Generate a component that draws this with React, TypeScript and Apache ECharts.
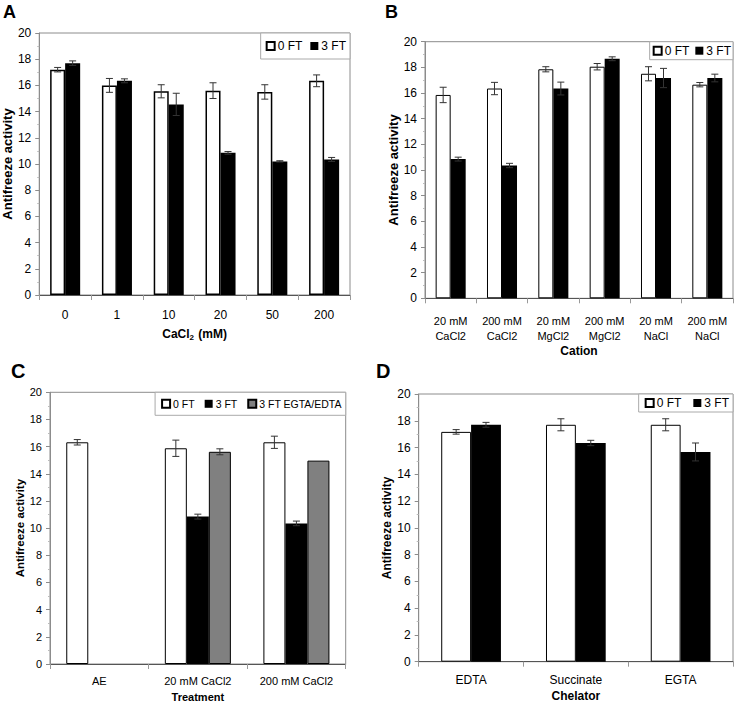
import React, { useEffect, useRef } from 'react';
import * as echarts from 'echarts';

// ---------- Data ----------
const catsA = ['0', '1', '10', '20', '50', '200'];
const a0FT = [17.2, 16.0, 15.55, 15.6, 15.5, 16.35];
const a0FTErr = [0.17, 0.53, 0.5, 0.6, 0.55, 0.45];
const a3FT = [17.7, 16.35, 14.55, 10.85, 10.2, 10.35];
const a3FTErr = [0.17, 0.15, 0.85, 0.1, 0.05, 0.15];

const catsB = ['20 mM\nCaCl2', '200 mM\nCaCl2', '20 mM\nMgCl2', '200 mM\nMgCl2', '20 mM\nNaCl', '200 mM\nNaCl'];
const b0FT = [15.85, 16.35, 17.85, 18.05, 17.5, 16.65];
const b0FTErr = [0.6, 0.48, 0.2, 0.25, 0.55, 0.17];
const b3FT = [10.85, 10.35, 16.35, 18.67, 17.17, 17.17];
const b3FTErr = [0.15, 0.17, 0.5, 0.15, 0.75, 0.3];

const catsC = ['AE', '20 mM CaCl2', '200 mM CaCl2'];
const c0FT = [16.32, 15.88, 16.32];
const c0FTErr = [0.2, 0.6, 0.45];
const c3FT = [null, 10.85, 10.35];
const c3FTErr = [null, 0.18, 0.17];
const c3FTChel = [null, 15.62, 14.97];
const c3FTChelErr = [null, 0.22, 0];

const catsD = ['EDTA', 'Succinate', 'EGTA'];
const d0FT = [17.17, 17.7, 17.7];
const d0FTErr = [0.17, 0.45, 0.45];
const d3FT = [17.7, 16.34, 15.67];
const d3FTErr = [0.18, 0.2, 0.67];

const yTicks = { min: 0, max: 20, interval: 2 };

const ARIAL = "'Liberation Sans', Arial, sans-serif";

type SeriesDef = { name: string; values: (number | null)[]; errs: (number | null)[]; color: string; border: string; borderWidth: number };
type Panel = {
  letter: string; letterX: number; letterY: number; letterSize: number;
  grid: { left: number; top: number; width: number; height: number };
  cats: string[]; gap: number; tickSize: number; catSize: number; catMargin: number; lineHeight?: number;
  yName: string; yNameSize: number; yNameGap: number;
  xName: string; xNameSize: number; xNameGap: number; xNameRich?: boolean;
  series: SeriesDef[];
  legend: { right: number; top: number; padding: number[]; itemGap: number; fontSize: number };
};

const panels: Panel[] = [
  {
    letter: 'A', letterX: 3, letterY: 3, letterSize: 18,
    grid: { left: 37.5, top: 33, width: 312.5, height: 262 },
    cats: catsA, gap: 0.42, tickSize: 12, catSize: 12, catMargin: 14,
    yName: 'Antifreeze activity', yNameSize: 13, yNameGap: 19,
    xName: 'CaCl{s|2} (mM)', xNameSize: 12, xNameGap: 32, xNameRich: true,
    series: [
      { name: '0 FT', values: a0FT, errs: a0FTErr, color: '#fff', border: '#000', borderWidth: 1.5 },
      { name: '3 FT', values: a3FT, errs: a3FTErr, color: '#000', border: '#000', borderWidth: 0 },
    ],
    legend: { right: 736 - 350, top: 33, padding: [7, 4, 7, 5], itemGap: 8, fontSize: 12 },
  },
  {
    letter: 'B', letterX: 385, letterY: 3, letterSize: 18,
    grid: { left: 425, top: 41.7, width: 308, height: 256.6 },
    cats: catsB, gap: 0.415, tickSize: 12, catSize: 11, catMargin: 15, lineHeight: 15,
    yName: 'Antifreeze activity', yNameSize: 13, yNameGap: 24,
    xName: 'Cation', xNameSize: 12, xNameGap: 47,
    series: [
      { name: '0 FT', values: b0FT, errs: b0FTErr, color: '#fff', border: '#000', borderWidth: 1 },
      { name: '3 FT', values: b3FT, errs: b3FTErr, color: '#000', border: '#000', borderWidth: 0 },
    ],
    legend: { right: 3, top: 41.7, padding: [3, 2, 3, 3], itemGap: 6, fontSize: 12 },
  },
  {
    letter: 'C', letterX: 11, letterY: 361, letterSize: 20,
    grid: { left: 50, top: 392.3, width: 295.7, height: 272 },
    cats: catsC, gap: 0.33, tickSize: 11, catSize: 11, catMargin: 11,
    yName: 'Antifreeze activity', yNameSize: 11.5, yNameGap: 23,
    xName: 'Treatment', xNameSize: 11, xNameGap: 27,
    series: [
      { name: '0 FT', values: c0FT, errs: c0FTErr, color: '#fff', border: '#000', borderWidth: 1 },
      { name: '3 FT', values: c3FT, errs: c3FTErr, color: '#000', border: '#000', borderWidth: 0 },
      { name: '3 FT EGTA/EDTA', values: c3FTChel, errs: c3FTChelErr, color: '#808080', border: '#000', borderWidth: 1 },
    ],
    legend: { right: 736 - 345.7, top: 392.3, padding: [6, 4, 6, 6], itemGap: 10, fontSize: 10.5 },
  },
  {
    letter: 'D', letterX: 376, letterY: 361, letterSize: 20,
    grid: { left: 418.7, top: 394, width: 314.3, height: 267.7 },
    cats: catsD, gap: 0.43, tickSize: 12, catSize: 12, catMargin: 12,
    yName: 'Antifreeze activity', yNameSize: 12, yNameGap: 25,
    xName: 'Chelator', xNameSize: 12, xNameGap: 28,
    series: [
      { name: '0 FT', values: d0FT, errs: d0FTErr, color: '#fff', border: '#000', borderWidth: 1 },
      { name: '3 FT', values: d3FT, errs: d3FTErr, color: '#000', border: '#000', borderWidth: 0 },
    ],
    legend: { right: 3, top: 394, padding: [3, 4, 3, 6], itemGap: 12, fontSize: 12 },
  },
];

function buildOption() {
  const grid: any[] = [];
  const xAxis: any[] = [];
  const yAxis: any[] = [];
  const series: any[] = [];
  const legend: any[] = [];
  const graphic: any[] = [];

  panels.forEach((p, pi) => {
    grid.push({ ...p.grid, show: true, borderColor: '#8c8c8c', borderWidth: 1, backgroundColor: '#fff', containLabel: false });
    xAxis.push({
      type: 'category', gridIndex: pi, data: p.cats,
      axisLine: { lineStyle: { color: '#555', width: 1 } },
      axisTick: { show: true, length: 5, lineStyle: { color: '#999' } },
      axisLabel: { fontFamily: ARIAL, fontSize: p.catSize, color: '#000', margin: p.catMargin, lineHeight: p.lineHeight, interval: 0 },
      name: p.xName, nameLocation: 'middle', nameGap: p.xNameGap,
      nameTextStyle: {
        fontFamily: ARIAL, fontSize: p.xNameSize, fontWeight: 'bold', color: '#000',
        rich: p.xNameRich ? { s: { fontFamily: ARIAL, fontSize: 8, fontWeight: 'bold', color: '#000', verticalAlign: 'bottom', padding: [6, 1, 0, 0] } } : undefined,
      },
    });
    yAxis.push({
      type: 'value', gridIndex: pi, ...yTicks,
      axisLine: { show: true, lineStyle: { color: '#8c8c8c' } },
      axisTick: { show: true, length: 4, lineStyle: { color: '#8c8c8c' } },
      minorTick: { show: true, splitNumber: 2, length: 2, lineStyle: { color: '#bbb' } },
      splitLine: { show: false },
      axisLabel: { fontFamily: ARIAL, fontSize: p.tickSize, color: '#000', margin: 8 },
      name: p.yName, nameLocation: 'middle', nameGap: p.yNameGap, nameRotate: 90,
      nameTextStyle: { fontFamily: ARIAL, fontSize: p.yNameSize, fontWeight: 'bold', color: '#000' },
    });
    const n = p.series.length;
    p.series.forEach((s, si) => {
      series.push({
        type: 'bar', name: s.name, xAxisIndex: pi, yAxisIndex: pi,
        data: s.values, barGap: '0%', barCategoryGap: Math.round(p.gap * 1000) / 10 + '%',
        itemStyle: { color: s.color, borderColor: s.border, borderWidth: s.borderWidth },
        z: 2,
      });
      const errData: any[] = [];
      s.values.forEach((v, i) => {
        const e = s.errs[i];
        if (v != null && e != null && e > 0) errData.push([i, v, e]);
      });
      const gap = p.gap;
      series.push({
        type: 'custom', name: 'err-' + p.letter + si, xAxisIndex: pi, yAxisIndex: pi,
        encode: { x: 0, y: 1 }, data: errData, z: 5, silent: true,
        renderItem: (params: any, api: any) => {
          const i = api.value(0), v = api.value(1), e = api.value(2);
          const band = api.size([1, 0])[0];
          const bw = (band * (1 - gap)) / n;
          const off = (si - (n - 1) / 2) * bw;
          const p1 = api.coord([i, v + e]);
          const p2 = api.coord([i, v - e]);
          const x = p1[0] + off;
          const cap = 3.5;
          const style = { stroke: '#333', lineWidth: 1, fill: 'none' };
          return {
            type: 'group',
            children: [
              { type: 'line', shape: { x1: x, y1: p1[1], x2: x, y2: p2[1] }, style },
              { type: 'line', shape: { x1: x - cap, y1: p1[1], x2: x + cap, y2: p1[1] }, style },
              { type: 'line', shape: { x1: x - cap, y1: p2[1], x2: x + cap, y2: p2[1] }, style },
            ],
          };
        },
      });
    });
    legend.push({
      data: p.series.map((s) => s.name),
      right: p.legend.right, top: p.legend.top,
      orient: 'horizontal', padding: p.legend.padding, itemGap: p.legend.itemGap,
      itemWidth: 8, itemHeight: 8, icon: 'rect',
      borderColor: '#aaa', borderWidth: 1, backgroundColor: '#fff',
      textStyle: { fontFamily: ARIAL, fontSize: p.legend.fontSize, color: '#000', padding: [0, 0, 0, -2] },
      selectedMode: false,
    });
    graphic.push({
      type: 'text', left: p.letterX, top: p.letterY,
      style: { text: p.letter, font: `bold ${p.letterSize}px 'Liberation Sans', Arial, sans-serif`, fill: '#000' },
    });
  });

  return { animation: false, backgroundColor: '#fff', grid, xAxis, yAxis, series, legend, graphic };
}

export default function App() {
  const ref = useRef<HTMLDivElement>(null);
  useEffect(() => {
    if (!ref.current) return;
    const chart = echarts.init(ref.current, undefined, { renderer: 'svg' });
    chart.setOption(buildOption() as any);
    return () => chart.dispose();
  }, []);
  return <div ref={ref} style={{ position: 'fixed', left: 0, top: 0, width: 736, height: 703, background: '#fff' }} />;
}
